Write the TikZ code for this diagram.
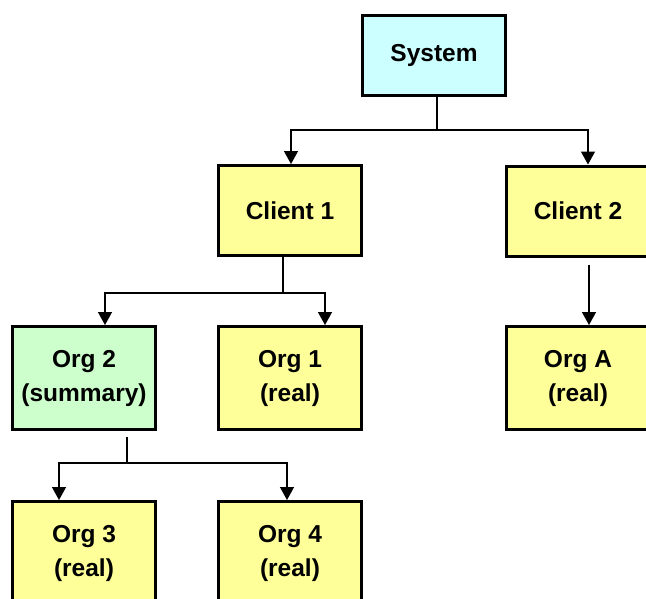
\documentclass[tikz,border=0pt]{standalone}
\usepackage{fontspec}
\setmainfont{Liberation Sans}
\usepackage{xcolor}
\usetikzlibrary{arrows.meta,calc,positioning}
\definecolor{syscyan}{HTML}{CCFFFF}
\definecolor{clientyellow}{HTML}{FFFF99}
\definecolor{sumgreen}{HTML}{CCFFCC}

\begin{document}
\begin{tikzpicture}[x=1pt, y=-1pt,
    box/.style={draw=black, line width=3pt, align=center, inner sep=0pt,
        minimum width=143pt, font=\fontsize{24.5}{34}\selectfont\bfseries},
    link/.style={line width=1.4pt},
    arrow/.style={line width=1.4pt, -{Triangle[length=13pt,width=14pt]}}]
    \useasboundingbox (0,0) rectangle (646,598);

    % TOP: System
    \node[box, fill=syscyan, minimum height=80pt] (system) at (434,55.5) {System};

    % MIDDLE: Clients
    \node[box, fill=clientyellow, minimum height=90pt] (client1) at (290,210.5) {Client 1};
    \node[box, fill=clientyellow, minimum height=90pt] (client2) at (578,211) {Client 2};

    % Orgs under the clients
    \node[box, fill=sumgreen, minimum height=103pt] (org2) at (84,378) {Org 2\\(summary)};
    \node[box, fill=clientyellow, minimum height=103pt] (org1) at (290,378) {Org 1\\(real)};
    \node[box, fill=clientyellow, minimum height=103pt] (orgA) at (578,378) {Org A\\(real)};

    % BOTTOM: Orgs under the summary
    \node[box, fill=clientyellow, minimum height=103pt] (org3) at (84,553) {Org 3\\(real)};
    \node[box, fill=clientyellow, minimum height=103pt] (org4) at (290,553) {Org 4\\(real)};

    % connectors
    \draw[link] ([xshift=3pt]system.south) -- ++(0,33) coordinate (sysfork);
    \draw[arrow] (sysfork) -| ([xshift=1pt]client1.north);
    \draw[arrow] (sysfork) -| ([xshift=10pt]client2.north);

    \draw[link] ([xshift=-7pt]client1.south) -- ++(0,36) coordinate (clifork);
    \draw[arrow] (clifork) -| ([xshift=21pt]org2.north);
    \draw[arrow] (clifork) -| ([xshift=35pt]org1.north);

    \draw[arrow] ([xshift=11pt,yshift=-7pt]client2.south) -- ([xshift=11pt]orgA.north);

    \draw[link] ([xshift=43pt,yshift=-6pt]org2.south) -- ++(0,26) coordinate (sumfork);
    \draw[arrow] (sumfork) -| ([xshift=-25pt]org3.north);
    \draw[arrow] (sumfork) -| ([xshift=-3pt]org4.north);
\end{tikzpicture}
\end{document}
